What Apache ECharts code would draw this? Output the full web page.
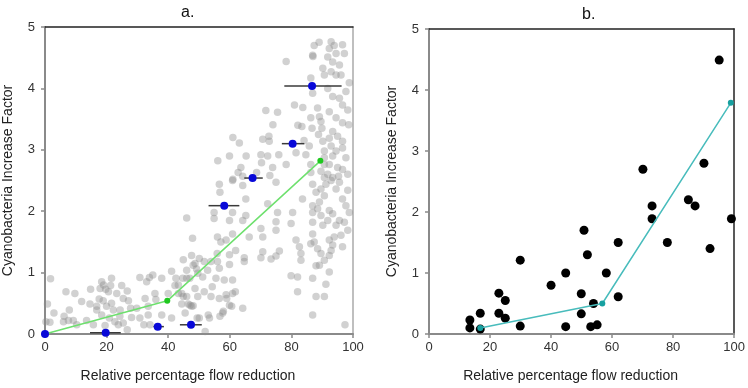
<!DOCTYPE html>
<html>
<head>
<meta charset="utf-8">
<script src="https://cdn.jsdelivr.net/npm/echarts@6/dist/echarts.min.js"></script>
<style>
  html, body { margin: 0; padding: 0; background: #fff; }
  #chart { width: 748px; height: 388px; }
</style>
</head>
<body>
<div id="chart"></div>
<script>
// panel a: individual simulations (grey), binned means (blue), fitted line (green)
const greyPoints = [
  [1.8,0.90],[0.8,0.49],[0.3,0.20],[1.6,0.19],[2.9,0.34],[6.8,0.69],[9.7,0.66],[7.9,0.39],[6.2,0.29],[6.0,0.20],
  [7.6,0.22],[9.2,0.22],[10.3,0.15],[11.9,0.53],[14.8,0.73],[14.6,0.49],[15.7,0.15],[13.5,0.22],[18.4,0.85],[19.0,0.80],
  [19.7,0.73],[21.6,0.91],[20.6,0.69],[21.3,0.79],[17.6,0.57],[18.9,0.54],[16.8,0.45],[16.8,0.39],[18.4,0.31],[20.0,0.45],
  [21.6,0.50],[22.2,0.39],[20.9,0.26],[19.5,0.14],[22.7,0.20],[23.8,0.15],[24.3,0.29],[24.9,0.79],[26.7,0.70],[27.1,0.54],
  [27.8,0.42],[25.4,0.18],[26.7,0.07],[28.1,0.27],[30.8,0.92],[33.0,0.85],[33.9,0.92],[35.0,0.96],[32.5,0.58],[33.5,0.45],
  [33.5,0.31],[35.7,0.66],[36.0,0.56],[32.1,0.15],[30.8,0.26],[37.9,0.91],[41.1,1.02],[42.5,0.91],[42.2,0.79],[43.3,0.80],
  [41.1,0.26],[44.9,1.21],[46.0,1.89],[47.9,1.56],[47.6,1.28],[46.0,1.04],[47.0,0.91],[48.7,1.15],[49.2,1.06],[44.7,0.91],
  [43.3,0.66],[44.9,0.61],[46.5,0.49],[44.4,0.49],[47.6,0.45],[46.0,0.61],[48.7,0.74],[48.1,0.46],[49.4,0.26],[37.9,0.31],
  [40.0,0.66],[34.1,0.15],[29.8,0.42],[25.4,0.58],[23.3,0.66],[17.9,0.74],[24.4,0.39],
  [56.1,2.82],[59.9,2.90],[61.0,3.20],[63.1,3.11],[63.6,2.71],[65.3,2.90],[64.2,2.57],[70.1,2.92],[70.7,3.17],[71.7,3.64],
  [72.3,2.90],[75.5,3.61],[75.9,2.92],[72.8,3.14],[73.9,2.71],[78.3,4.44],[78.3,2.76],[81.0,3.73],[83.7,3.69],[83.4,3.38],
  [81.5,2.95],[84.7,2.92],[84.1,3.15],[86.3,4.17],[86.9,4.54],[87.4,4.70],[89.0,4.75],[86.9,3.92],[86.3,3.52],[86.7,3.35],
  [85.8,3.06],[86.3,2.76],[86.3,2.63],[88.5,3.68],[89.1,3.54],[89.6,3.46],[89.9,3.35],[88.8,3.25],[90.2,3.14],[90.7,2.98],
  [90.7,2.87],[89.6,2.65],[90.7,2.55],[90.2,4.33],[90.7,4.22],[91.8,4.51],[92.3,4.65],[92.9,4.76],[93.9,4.70],[94.5,4.57],
  [93.4,4.43],[92.9,4.27],[94.5,4.22],[96.1,4.22],[96.6,4.71],[97.2,4.57],[95.6,4.38],[91.8,4.00],[93.4,3.87],[95.6,3.84],
  [96.6,3.73],[98.3,3.65],[98.8,4.09],[97.7,3.95],[92.3,3.62],[94.5,3.52],[96.6,3.44],[98.6,3.41],[93.4,3.30],[95.0,3.22],
  [96.6,3.14],[92.3,3.19],[92.9,3.06],[94.5,2.98],[96.6,3.03],[97.7,2.87],[93.4,2.90],[92.3,2.76],[95.0,2.71],[96.6,2.68],
  [98.3,2.60],[91.8,2.60],[93.4,2.55],[95.3,2.57],[90.7,2.76],[61.0,2.52],[62.7,2.63],[68.7,2.63],[73.0,2.58],[70.3,2.79],
  [72.7,3.22],[74.0,3.41],[82.1,3.40],[87.0,4.52],
  [56.6,2.44],[56.8,2.31],[60.9,2.50],[64.2,2.42],[75.0,2.47],[72.3,2.12],[65.2,2.20],[65.2,1.93],[64.2,1.85],[60.9,1.98],
  [59.9,1.85],[54.9,1.98],[54.9,1.88],[56.0,1.58],[58.8,1.53],[57.1,1.50],[60.9,1.63],[61.9,1.36],[59.9,1.29],[55.9,1.31],
  [53.9,1.18],[56.0,1.18],[56.6,1.07],[59.9,1.13],[64.7,1.18],[64.7,1.24],[66.3,1.58],[70.1,1.72],[70.7,1.58],[75.0,1.69],
  [75.0,1.83],[75.5,1.98],[79.9,1.80],[70.7,1.34],[70.1,1.24],[73.4,1.22],[75.0,1.27],[76.1,1.35],[79.9,0.95],[82.0,0.93],
  [82.0,0.69],[81.5,1.53],[82.6,1.42],[83.1,1.31],[83.1,1.20],[80.4,1.98],[83.6,2.20],[86.9,2.09],[86.9,1.98],[86.9,1.63],
  [87.4,1.50],[86.3,1.47],[88.5,1.39],[89.6,1.31],[89.1,1.12],[88.0,1.11],[86.9,0.91],[88.0,0.61],[90.7,0.61],[91.2,0.81],
  [92.3,1.01],[90.7,1.20],[92.3,1.28],[92.9,1.36],[93.4,1.45],[92.3,1.53],[93.9,1.58],[96.6,1.42],[96.1,1.61],[98.3,1.69],
  [97.2,1.82],[95.6,1.85],[94.5,1.77],[93.4,1.96],[92.3,2.01],[91.8,1.85],[90.2,1.77],[89.6,1.93],[88.5,2.04],[89.1,2.15],
  [90.7,2.25],[89.6,2.36],[91.2,2.44],[92.9,2.50],[94.5,2.36],[95.6,2.47],[96.6,2.20],[97.7,2.09],[98.8,1.98],[98.3,2.34],
  [86.9,2.44],[88.0,2.31],[86.9,1.82],[86.9,0.31],[97.4,0.15],[64.2,0.42],[59.9,0.47],[57.7,0.34],[56.8,0.29],[53.4,0.26],
  [50.1,0.26],[52.0,0.04],[56.6,0.58],[58.8,0.64],[60.9,0.66],[61.8,0.69],[53.9,0.61],[51.7,0.69],[49.6,0.61],[54.3,0.77],
  [58.2,0.88],[60.9,0.88],[51.2,0.93],[55.5,0.91],[52.8,1.04],[49.6,0.99],[51.7,1.18],[50.1,1.23],
  [48.1,1.12],[46.0,0.91],[44.4,0.66],[47.1,0.47],[45.5,0.34],[53.0,0.31],[57.9,0.37],[59.0,0.58],[60.6,0.45]
];

const blueX = [0, 19.7, 36.6, 47.4, 58.2, 67.4, 80.4, 86.7];
const blueY = [0, 0.02, 0.12, 0.15, 2.09, 2.54, 3.10, 4.04];
const blueLo = [0, 14.6, 35.2, 43.8, 53.1, 64.7, 76.9, 77.7];
const blueHi = [0, 24.6, 38.6, 50.9, 63.1, 70.7, 84.2, 96.3];

const greenX = [0, 39.7, 89.4];
const greenY = [0, 0.54, 2.82];

// panel b: observations (black), fitted line (teal)
const blackPoints = [
  [13.4,0.23],[13.4,0.10],[16.8,0.34],[16.8,0.08],[22.9,0.67],[22.9,0.34],[25.0,0.55],[25.0,0.26],[29.9,1.21],[29.9,0.13],
  [40.0,0.80],[44.8,1.00],[44.8,0.12],[50.8,1.70],[51.9,1.30],[49.9,0.66],[49.9,0.33],[53.9,0.50],[53.0,0.12],[55.1,0.15],
  [58.1,1.00],[62.0,1.50],[62.0,0.61],[73.1,2.10],[73.1,1.89],[78.1,1.50],[85.0,2.20],[87.2,2.10],[92.1,1.40],[99.1,1.89],
  [95.1,4.49],[90.1,2.80],[70.1,2.70]
];

const tealX = [16.8, 56.8, 98.9];
const tealY = [0.10, 0.50, 3.79];

const xTicks = ['0', '20', '40', '60', '80', '100'];
const yTicks = ['0', '1', '2', '3', '4', '5'];

const FONT = 'Liberation Sans, Arial, sans-serif';

const chart = echarts.init(document.getElementById('chart'), null, { renderer: 'canvas' });

function mainX(gridIndex) {
  return {
    gridIndex: gridIndex,
    type: 'value',
    min: 0,
    max: 100,
    interval: 20,
    name: 'Relative percentage flow reduction',
    nameLocation: 'middle',
    nameGap: 35,
    nameTextStyle: { fontFamily: FONT, fontSize: 14, color: '#222', padding: [0, 22, 0, 0] },
    axisLine: { onZero: false, lineStyle: { color: '#8a8a8a', width: 2 } },
    axisTick: { show: true, inside: false, length: 4, lineStyle: { color: '#8a8a8a', width: 1.5 } },
    axisLabel: {
      margin: 7,
      fontFamily: FONT,
      fontSize: 13,
      color: '#333',
      formatter: v => xTicks[Math.round(v / 20)]
    },
    splitLine: { show: false }
  };
}

function mainY(gridIndex) {
  return {
    gridIndex: gridIndex,
    type: 'value',
    min: 0,
    max: 5,
    interval: 1,
    name: 'Cyanobacteria Increase Factor',
    nameLocation: 'middle',
    nameGap: 30,
    nameTextStyle: { fontFamily: FONT, fontSize: 14, color: '#222' },
    axisLine: { onZero: false, lineStyle: { color: '#8a8a8a', width: 2 } },
    axisTick: { show: true, inside: false, length: 4, lineStyle: { color: '#8a8a8a', width: 1.5 } },
    axisLabel: {
      margin: 10,
      fontFamily: FONT,
      fontSize: 13,
      color: '#333',
      formatter: v => yTicks[Math.round(v)]
    },
    splitLine: { show: false }
  };
}

function borderAxis(gridIndex, pos, color, isX) {
  return {
    gridIndex: gridIndex,
    type: 'value',
    position: pos,
    min: 0,
    max: isX ? 100 : 5,
    axisLine: { show: true, onZero: false, lineStyle: { color: color, width: 1.5 } },
    axisTick: { show: false },
    axisLabel: { show: false },
    splitLine: { show: false }
  };
}

chart.setOption({
  backgroundColor: '#fff',
  animation: false,
  title: [
    { text: 'a.', left: 176, top: 0, textStyle: { fontFamily: FONT, fontSize: 16, fontWeight: 'normal', color: '#111' } },
    { text: 'b.', left: 577, top: 2, textStyle: { fontFamily: FONT, fontSize: 16, fontWeight: 'normal', color: '#111' } }
  ],
  grid: [
    { left: 45, top: 27, width: 308, height: 309 },
    { left: 429, top: 29, width: 307, height: 310 }
  ],
  xAxis: [
    mainX(0),
    borderAxis(0, 'top', '#222', true),
    mainX(1),
    borderAxis(1, 'top', '#222', true)
  ],
  yAxis: [
    mainY(0),
    borderAxis(0, 'right', '#aaa', false),
    mainY(1),
    borderAxis(1, 'right', '#222', false)
  ],
  series: [
    {
      name: 'simulations',
      type: 'scatter',
      xAxisIndex: 0,
      yAxisIndex: 0,
      symbolSize: 7.5,
      data: greyPoints,
      itemStyle: { color: 'rgba(140,140,140,0.4)', opacity: 1 },
      z: 1
    },
    {
      name: 'fit a',
      type: 'line',
      xAxisIndex: 0,
      yAxisIndex: 0,
      data: greenX.map((x, i) => [x, greenY[i]]),
      symbol: 'circle',
      symbolSize: 6,
      lineStyle: { color: '#6ee06e', width: 1.5 },
      itemStyle: { color: '#1fc81f', opacity: 1 },
      z: 3
    },
    {
      name: 'range',
      type: 'custom',
      xAxisIndex: 0,
      yAxisIndex: 0,
      data: blueX.map((x, i) => [blueLo[i], blueHi[i], blueY[i]]),
      renderItem: function (params, api) {
        const a = api.coord([api.value(0), api.value(2)]);
        const b = api.coord([api.value(1), api.value(2)]);
        return {
          type: 'line',
          shape: { x1: a[0], y1: a[1], x2: b[0], y2: b[1] },
          style: { stroke: '#3a3a3a', lineWidth: 1.5 }
        };
      },
      z: 4
    },
    {
      name: 'means',
      type: 'scatter',
      xAxisIndex: 0,
      yAxisIndex: 0,
      symbolSize: 8,
      data: blueX.map((x, i) => [x, blueY[i]]),
      itemStyle: { color: '#0808d8', opacity: 1 },
      z: 5
    },
    {
      name: 'observed',
      type: 'scatter',
      xAxisIndex: 2,
      yAxisIndex: 2,
      symbolSize: 9,
      data: blackPoints,
      itemStyle: { color: '#000', opacity: 1 },
      z: 2
    },
    {
      name: 'fit b',
      type: 'line',
      xAxisIndex: 2,
      yAxisIndex: 2,
      data: tealX.map((x, i) => [x, tealY[i]]),
      symbol: 'circle',
      symbolSize: 6,
      lineStyle: { color: '#48bcbc', width: 1.5 },
      itemStyle: { color: '#17a0a0', opacity: 1 },
      z: 3
    }
  ]
});
</script>
</body>
</html>
